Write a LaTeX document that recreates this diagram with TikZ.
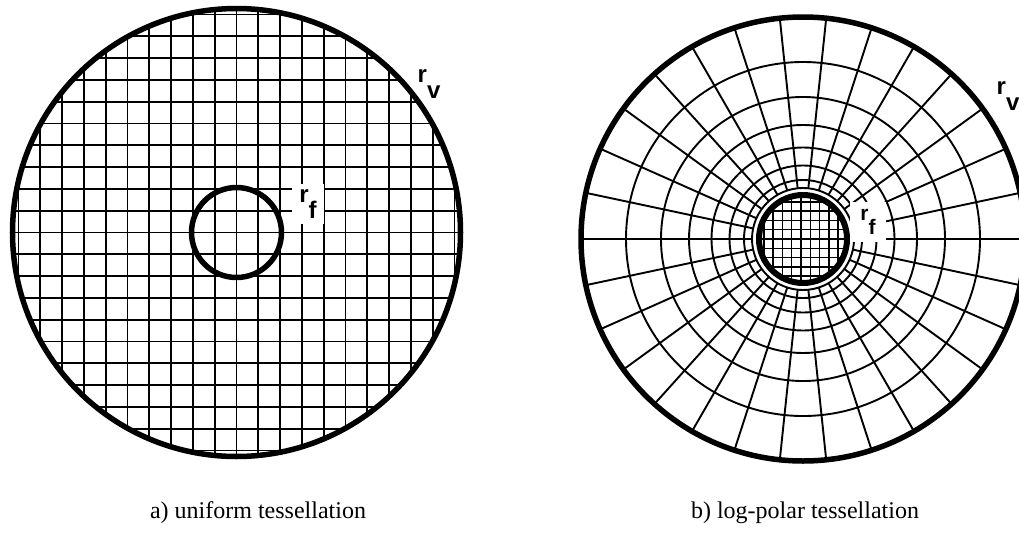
\documentclass[tikz,border=0pt]{standalone}
\usepackage{fontspec}
\setmainfont{Liberation Serif}
\newfontfamily\labelfont{Liberation Sans}
\usetikzlibrary{positioning}

\newcommand{\radlabel}[2]{\textbf{#1}\raisebox{-0.68em}{\textbf{#2}}}

\begin{document}
\begin{tikzpicture}[
        x=1pt, y=-1pt,
        rim/.style={line width=5.5pt},
        fovea/.style={line width=5.5pt},
        tess/.style={line width=1.9pt},
        radlbl/.style={
            font=\labelfont\fontsize{24}{24}\selectfont,
            inner sep=2pt
        },
        blanked/.style={
            radlbl,
            fill=white,
            inner sep=5pt
        },
        caption/.style={font=\fontsize{24}{26}\selectfont, anchor=base}
    ]
        \useasboundingbox (0,0) rectangle (1019,533);
        \coordinate (cA) at (236.5,232.5);
        \coordinate (cB) at (803,239);

        % a) uniform tessellation
        \begin{scope}
            \clip (cA) circle[radius=224];
            \foreach \k in {-11,...,11} {
                \draw[tess] (cA) ++(\k*21.8,-230) -- ++(0,460);
                \draw[tess] (cA) ++(-230,\k*21.8) -- ++(460,0);
            }
        \end{scope}
        \draw[fovea] (cA) circle[radius=45];
        \draw[rim] (cA) circle[radius=224];

        \node[blanked, inner xsep=7pt] (rfA) at (308,204) {\radlabel{r}{f}};
        \node[radlbl] (rvA) at (429,84) {\radlabel{r}{v}};

        % b) log-polar tessellation
        \begin{scope}
            \clip (cB) circle[radius=42];
            \foreach \k in {-5,...,5} {
                \draw[tess, line width=1.5pt] (cB) ++(\k*9.3-2,-45) -- ++(0,90);
                \draw[tess, line width=1.5pt] (cB) ++(-45,\k*9.3) -- ++(90,0);
            }
        \end{scope}
        \foreach \a in {0,12,...,348}
            \draw[tess, shift={(cB)}] (\a:51) -- (\a:222);
        \foreach \r in {51,59,73.5,91.5,114,142,177}
            \draw[tess] (cB) circle[radius=\r];
        \draw[fovea, line width=6pt] (cB) circle[radius=44];
        \draw[rim] (cB) circle[radius=222];

        \node[blanked, font=\labelfont\fontsize{21}{21}\selectfont,
            inner xsep=10pt, inner ysep=7pt] (rfB) at (868,222) {\radlabel{r}{f}};
        \node[radlbl] (rvB) at (1008,96) {\radlabel{r}{v}};

        % captions
        \node[caption] (capA) at (258,518) {a) uniform tessellation};
        \node[caption] (capB) at (805,518) {b) log-polar tessellation};
    \end{tikzpicture}
\end{document}
